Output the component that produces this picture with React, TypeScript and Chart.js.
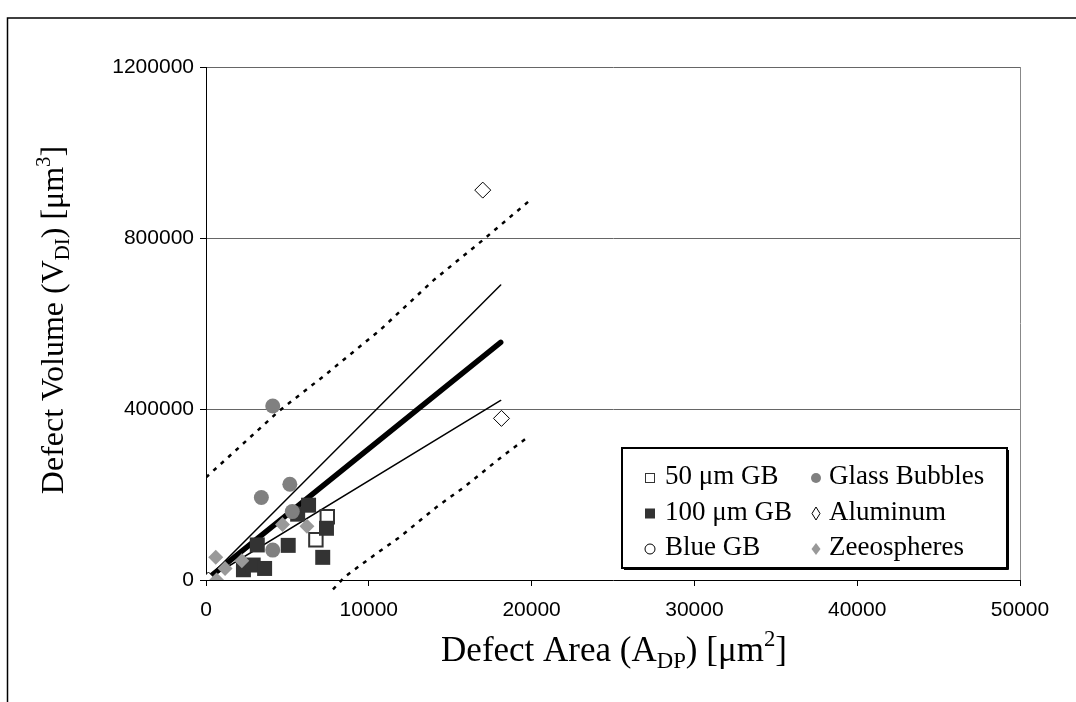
import React, { useEffect, useRef } from 'react';
import { Chart, registerables } from 'chart.js';

Chart.register(...registerables);

// ---- data (µm², µm³) ----
const gb50X = [7450, 6750];
const gb50Y = [148000, 94000];

const gb100X = [2300, 2900, 3600, 3150, 5050, 5630, 6300, 7170, 7400];
const gb100Y = [24000, 35000, 27000, 82000, 81000, 154000, 175000, 53000, 121000];

const blueGbX: number[] = [];
const blueGbY: number[] = [];

const glassX = [4100, 5150, 3400, 5300, 4100];
const glassY = [407000, 224000, 193000, 160000, 70000];

const aluX = [150, 17000, 18150];
const aluY = [0, 912000, 378000];

const zeeoX = [600, 1170, 650, 2200, 4700, 6200];
const zeeoY = [53000, 27000, 0, 45000, 130000, 126000];

const fitX = [0, 18100];
const fitY = [0, 556000];
const ciUpperY = [0, 690000];
const ciLowerY = [0, 420000];

const piUpperX = [0, 2400, 4440, 7200, 10700, 14000, 17000, 19800];
const piUpperY = [240000, 323000, 394000, 476000, 585000, 702000, 795000, 885000];
const piLowerX = [7800, 8540, 10075, 11920, 14170, 15810, 18060, 19800];
const piLowerY = [-22000, 8000, 51000, 101000, 171000, 216000, 285000, 335000];

const xTicksMax = 50000;
const xStep = 10000;
const yTicksMax = 1200000;
const yStep = 400000;

const legendLabels = ['50 μm GB', '100 μm GB', 'Blue GB', 'Glass Bubbles', 'Aluminum', 'Zeeospheres'];

const pts = (xs: number[], ys: number[]) => xs.map((x, i) => ({ x, y: ys[i] }));

type Seg = { t: string; sub?: boolean; sup?: boolean };

function drawRich(ctx: CanvasRenderingContext2D, segs: Seg[], cx: number, baseY: number, size: number, family: string) {
  const small = size * 0.65;
  const widths = segs.map((s) => {
    ctx.font = `${s.sub || s.sup ? small : size}px ${family}`;
    return ctx.measureText(s.t).width;
  });
  const total = widths.reduce((a, b) => a + b, 0);
  let x = cx - total / 2;
  ctx.textAlign = 'left';
  ctx.textBaseline = 'alphabetic';
  segs.forEach((s, i) => {
    ctx.font = `${s.sub || s.sup ? small : size}px ${family}`;
    let y = baseY;
    if (s.sub) y += size * 0.2;
    if (s.sup) y -= size * 0.42;
    ctx.fillText(s.t, x, y);
    x += widths[i];
  });
}

const serif = '"Liberation Serif", "Times New Roman", serif';

const decorPlugin = {
  id: 'decor',
  afterDraw(chart: any) {
    const ctx: CanvasRenderingContext2D = chart.ctx;
    ctx.save();
    // outer frame
    ctx.strokeStyle = '#000';
    ctx.lineWidth = 1.5;
    ctx.strokeRect(7.5, 18, 1200, 1200);

    ctx.fillStyle = '#000';
    // x title
    drawRich(
      ctx,
      [{ t: 'Defect Area (A' }, { t: 'DP', sub: true }, { t: ') [μm' }, { t: '2', sup: true }, { t: ']' }],
      614,
      661,
      35,
      serif
    );
    // y title
    ctx.save();
    ctx.translate(52, 320);
    ctx.rotate(-Math.PI / 2);
    drawRich(
      ctx,
      [{ t: 'Defect Volume (V' }, { t: 'DI', sub: true }, { t: ') [μm' }, { t: '3', sup: true }, { t: ']' }],
      0,
      11,
      32,
      serif
    );
    ctx.restore();

    // legend box
    const bx = 622, by = 448, bw = 385, bh = 120;
    ctx.fillStyle = '#fff';
    ctx.fillRect(bx, by, bw, bh);
    ctx.strokeStyle = '#000';
    ctx.lineWidth = 2;
    ctx.strokeRect(bx, by, bw, bh);
    ctx.lineWidth = 1;
    ctx.beginPath();
    ctx.moveTo(bx + bw + 1.5, by + 2);
    ctx.lineTo(bx + bw + 1.5, by + bh + 1.5);
    ctx.lineTo(bx + 2, by + bh + 1.5);
    ctx.stroke();

    const rows = [475, 510.5, 546];
    const col1M = 650, col1T = 665, col2M = 816, col2T = 829;
    ctx.font = `27px ${serif}`;
    ctx.textAlign = 'left';
    ctx.textBaseline = 'middle';
    ctx.fillStyle = '#000';
    legendLabels.forEach((lab, i) => {
      const col = i < 3 ? 0 : 1;
      const r = rows[i % 3];
      ctx.fillStyle = '#000';
      ctx.fillText(lab, col === 0 ? col1T : col2T, r + 2);
      const mx = col === 0 ? col1M : col2M;
      const my = r + 3;
      ctx.lineWidth = 1;
      if (i === 0) {
        ctx.fillStyle = '#fff';
        ctx.fillRect(mx - 5, my - 5, 10, 10);
        ctx.strokeStyle = '#333';
        ctx.strokeRect(mx - 4.5, my - 4.5, 9, 9);
      } else if (i === 1) {
        ctx.fillStyle = '#333';
        ctx.fillRect(mx - 5, my - 5, 10, 10);
      } else if (i === 2) {
        ctx.strokeStyle = '#000';
        ctx.beginPath();
        ctx.arc(mx, my, 5, 0, Math.PI * 2);
        ctx.stroke();
      } else if (i === 3) {
        ctx.fillStyle = '#808080';
        ctx.beginPath();
        ctx.arc(mx, my, 5, 0, Math.PI * 2);
        ctx.fill();
      } else if (i === 4) {
        ctx.strokeStyle = '#000';
        ctx.beginPath();
        ctx.moveTo(mx, my - 6.5);
        ctx.lineTo(mx + 4, my);
        ctx.lineTo(mx, my + 6.5);
        ctx.lineTo(mx - 4, my);
        ctx.closePath();
        ctx.stroke();
      } else {
        ctx.fillStyle = '#999';
        ctx.beginPath();
        ctx.moveTo(mx, my - 6);
        ctx.lineTo(mx + 4.5, my);
        ctx.lineTo(mx, my + 6);
        ctx.lineTo(mx - 4.5, my);
        ctx.closePath();
        ctx.fill();
      }
    });
    ctx.restore();
  },
};

const lineDs = (label: string, xs: number[], ys: number[], width: number, dash: number[] = [], extra: any = {}) => ({
  label,
  data: pts(xs, ys),
  showLine: true,
  pointRadius: 0,
  borderColor: '#000',
  borderWidth: width,
  borderDash: dash,
  borderCapStyle: dash.length ? 'butt' : 'round',
  tension: 0,
  fill: false,
  ...extra,
});

export default function App() {
  const ref = useRef<HTMLCanvasElement>(null);
  useEffect(() => {
    if (!ref.current) return;
    const tickFont = { family: '"Liberation Sans", Arial, sans-serif', size: 21 };
    const chart = new Chart(ref.current, {
      type: 'scatter',
      data: {
        datasets: [
          {
            label: 'Zeeospheres',
            data: pts(zeeoX, zeeoY),
            pointStyle: 'rectRot',
            pointRadius: 7.5,
            pointBackgroundColor: '#999999',
            pointBorderColor: '#999999',
            pointBorderWidth: 0,
          },
          {
            label: 'Glass Bubbles',
            data: pts(glassX, glassY),
            pointStyle: 'circle',
            pointRadius: 7.5,
            pointBackgroundColor: '#808080',
            pointBorderColor: '#808080',
            pointBorderWidth: 0,
          },
          {
            label: 'Aluminum',
            data: pts(aluX, aluY),
            pointStyle: 'rectRot',
            pointRadius: 8,
            pointBackgroundColor: '#fff',
            pointBorderColor: '#000',
            pointBorderWidth: 1,
          },
          {
            label: '100 μm GB',
            data: pts(gb100X, gb100Y),
            pointStyle: 'rect',
            pointRadius: 10.6,
            pointBackgroundColor: '#333333',
            pointBorderColor: '#333333',
            pointBorderWidth: 0,
          },
          {
            label: '50 μm GB',
            data: pts(gb50X, gb50Y),
            pointStyle: 'rect',
            pointRadius: 9.5,
            pointBackgroundColor: '#fff',
            pointBorderColor: '#333333',
            pointBorderWidth: 2,
          },
          {
            label: 'Blue GB',
            data: pts(blueGbX, blueGbY),
            pointStyle: 'circle',
            pointRadius: 6,
            pointBackgroundColor: '#fff',
            pointBorderColor: '#000',
            pointBorderWidth: 1,
          },
          lineDs('fit', fitX, fitY, 5.5),
          lineDs('ci upper', fitX, ciUpperY, 1.5),
          lineDs('ci lower', fitX, ciLowerY, 1.5),
          lineDs('pi upper', piUpperX, piUpperY, 2.5, [4, 6]),
          lineDs('pi lower', piLowerX, piLowerY, 2.5, [4, 6], { clip: false }),
        ] as any,
      },
      options: {
        responsive: false,
        animation: false,
        events: [],
        layout: { padding: { left: 0, right: 56, top: 67, bottom: 0 } },
        plugins: { legend: { display: false }, tooltip: { enabled: false } },
        scales: {
          x: {
            type: 'linear',
            min: 0,
            max: xTicksMax,
            ticks: { stepSize: xStep, color: '#000', font: tickFont, padding: 12, callback: (v: any) => String(v) },
            grid: {
              color: (c: any) => (c.tick && c.tick.value === xTicksMax ? '#888' : 'rgba(0,0,0,0)'),
              tickColor: '#000',
              tickLength: 6,
              lineWidth: 1,
            },
            border: { color: '#000', width: 1 },
            afterFit: (s: any) => {
              s.height = 122;
            },
          },
          y: {
            type: 'linear',
            min: 0,
            max: yTicksMax,
            ticks: { stepSize: yStep, color: '#000', font: tickFont, padding: 6, callback: (v: any) => String(v) },
            grid: {
              color: (c: any) => (c.tick && c.tick.value === 0 ? 'rgba(0,0,0,0)' : '#666'),
              tickColor: '#000',
              tickLength: 6,
              lineWidth: 1,
            },
            border: { color: '#000', width: 1 },
            afterFit: (s: any) => {
              s.width = 206;
            },
          },
        },
      } as any,
      plugins: [decorPlugin],
    });
    return () => chart.destroy();
  }, []);
  return (
    <div style={{ position: 'fixed', left: 0, top: 0, width: 1076, height: 702, background: '#fff' }}>
      <canvas ref={ref} width={1076} height={702} style={{ width: 1076, height: 702, display: 'block' }} />
    </div>
  );
}
